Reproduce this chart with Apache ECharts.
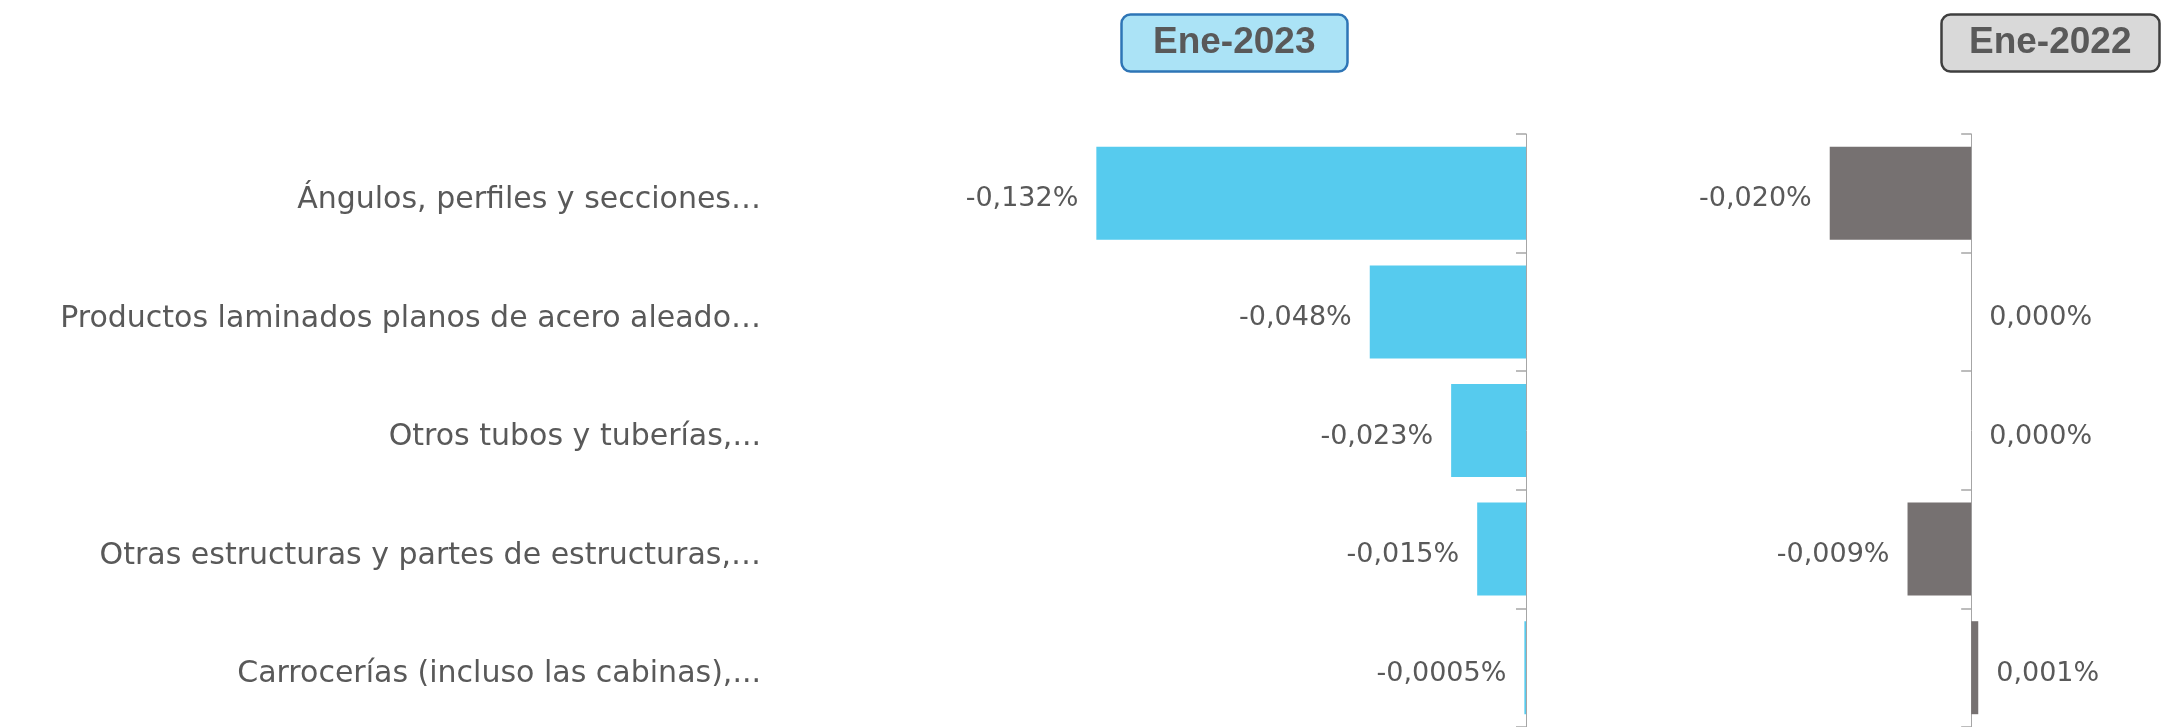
<!DOCTYPE html>
<html>
<head>
<meta charset="utf-8">
<script src="https://cdn.jsdelivr.net/npm/echarts@6/dist/echarts.min.js"></script>
<style>
html,body{margin:0;padding:0;background:#fff;}
#chart{width:2163px;height:727px;}
</style>
</head>
<body>
<div id="chart"></div>
<script>
const categories = [
  'Ángulos, perfiles y secciones…',
  'Productos laminados planos de acero aleado…',
  'Otros tubos y tuberías,...',
  'Otras estructuras y partes de estructuras,…',
  'Carrocerías (incluso las cabinas),...'
];
const values2023 = [-0.132, -0.048, -0.023, -0.015, -0.0005];
const values2022 = [-0.020, 0.000, 0.000, -0.009, 0.001];
const periodTitles = ['Ene-2023', 'Ene-2022'];

const TEXT = '#595959';
const AXIS = '#a6a6a6';

function fmt(v) {
  const a = Math.abs(v);
  const s = a.toString();
  let dec = s.indexOf('.') >= 0 ? s.split('.')[1].length : 0;
  dec = Math.max(3, dec);
  return (v < 0 ? '-' : '') + a.toFixed(dec).replace('.', ',') + '%';
}

function barData(vals) {
  return vals.map(v => ({
    value: v,
    label: { position: v < 0 ? 'left' : 'right' }
  }));
}

const labelStyle = {
  show: true,
  distance: 18,
  offset: [0, 6],
  fontFamily: 'DejaVu Sans',
  fontSize: 27,
  color: TEXT,
  formatter: p => fmt(p.value)
};

const chart = echarts.init(document.getElementById('chart'), null, { renderer: 'canvas' });

const titleBase = {
  top: 14,
  borderWidth: 2.5,
  borderRadius: 9,
  textStyle: {
    fontFamily: 'Liberation Sans, Arial, sans-serif',
    fontWeight: 'bold',
    fontSize: 37,
    lineHeight: 38,
    color: TEXT
  }
};

chart.setOption({
  animation: false,
  backgroundColor: '#ffffff',
  title: [
    Object.assign({}, titleBase, {
      text: periodTitles[0], left: 1121, padding: [10, 32],
      backgroundColor: '#abe3f6', borderColor: '#2e75b6'
    }),
    Object.assign({}, titleBase, {
      text: periodTitles[1], left: 1941, padding: [10, 28],
      backgroundColor: '#d9d9d9', borderColor: '#3f3f3f'
    })
  ],
  grid: [
    { left: 875, width: 651, top: 134, height: 597 },
    { left: 1759, width: 389, top: 134, height: 597 }
  ],
  xAxis: [
    { gridIndex: 0, type: 'value', min: -0.2, max: 0, show: false },
    { gridIndex: 1, type: 'value', min: -0.03, max: 0.025, show: false }
  ],
  yAxis: [
    {
      gridIndex: 0, type: 'category', data: categories, inverse: true, position: 'left',
      axisLine: { show: false }, axisTick: { show: false }, splitLine: { show: false },
      axisLabel: {
        margin: 114, color: TEXT,
        formatter: v => '{c|' + v + '}',
        rich: { c: { fontFamily: 'DejaVu Sans', fontSize: 30, color: TEXT, padding: [14, 0, 0, 0] } }
      }
    },
    {
      gridIndex: 0, type: 'category', data: categories, inverse: true, position: 'right',
      axisLine: { show: true, lineStyle: { color: AXIS, width: 1 } },
      axisTick: { show: true, inside: true, length: 10, lineStyle: { color: AXIS, width: 1.5 } },
      axisLabel: { show: false }, splitLine: { show: false }
    },
    {
      gridIndex: 1, type: 'category', data: categories, inverse: true, position: 'right',
      axisLine: { show: true, lineStyle: { color: AXIS, width: 1 } },
      axisTick: { show: true, inside: true, length: 10, lineStyle: { color: AXIS, width: 1.5 } },
      axisLabel: { show: false }, splitLine: { show: false }
    }
  ],
  series: [
    {
      type: 'bar', xAxisIndex: 0, yAxisIndex: 0, data: barData(values2023),
      barWidth: 93, itemStyle: { color: '#56cbee' }, label: labelStyle, z: 1
    },
    {
      type: 'bar', xAxisIndex: 1, yAxisIndex: 2, data: barData(values2022),
      barWidth: 93, itemStyle: { color: '#767171' }, label: labelStyle, z: 1
    }
  ]
});
</script>
</body>
</html>
